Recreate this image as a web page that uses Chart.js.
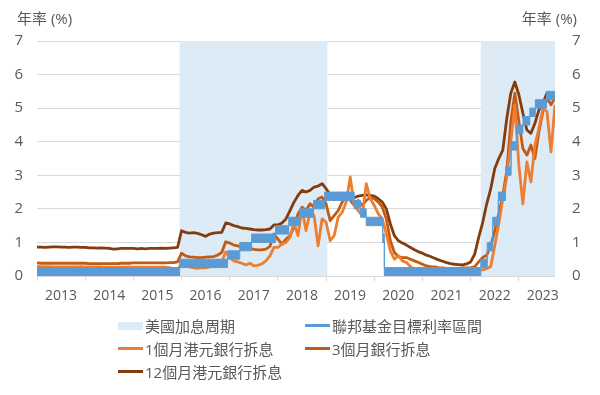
<!DOCTYPE html>
<html>
<head>
<meta charset="utf-8">
<script src="https://cdn.jsdelivr.net/npm/chart.js@4.4.0/dist/chart.umd.min.js"></script>
<style>
    html, body { margin: 0; padding: 0; background: #fff; }
    #wrap { position: relative; width: 600px; height: 395px; font-family: "Open Sans", "Noto Sans CJK TC", sans-serif; color: #595959; }
    #legend { position: absolute; left: 118px; top: 314px; display: grid; grid-template-columns: 187px auto; grid-auto-rows: 23px; font-size: 15px; }
    .item { display: flex; align-items: center; white-space: nowrap; }
    .sw { width: 25px; margin-right: 2px; }
</style>
</head>
<body>
<div id="wrap">
    <canvas id="rateChart" width="600" height="395"></canvas>
    <div id="legend"></div>
</div>
<script>
// Monthly HIBOR readings, Jan 2013 .. Oct 2023
const startYear = 2013;
const monthCount = 130;

const hibor1m = [
    0.29, 0.28, 0.28, 0.28, 0.27, 0.27, 0.27, 0.27, 0.27, 0.27, 0.27, 0.28,
    0.27, 0.27, 0.27, 0.27, 0.27, 0.26, 0.26, 0.26, 0.26, 0.26, 0.26, 0.27,
    0.26, 0.26, 0.26, 0.26, 0.26, 0.26, 0.26, 0.26, 0.26, 0.25, 0.20, 0.16,
    0.40, 0.30, 0.27, 0.24, 0.23, 0.25, 0.24, 0.27, 0.30, 0.35, 0.42, 0.72,
    0.55, 0.45, 0.42, 0.38, 0.33, 0.38, 0.30, 0.32, 0.36, 0.45, 0.60, 0.85,
    0.85, 0.95, 1.00, 1.15, 1.60, 1.20, 2.00, 1.35, 1.90, 1.80, 0.90, 1.70,
    1.60, 1.05, 1.20, 1.75, 1.90, 2.20, 2.95, 2.10, 1.95, 1.80, 2.75, 2.30,
    2.10, 1.85, 1.70, 1.25, 0.75, 0.50, 0.60, 0.45, 0.40, 0.28, 0.20, 0.18,
    0.17, 0.16, 0.15, 0.14, 0.13, 0.13, 0.12, 0.12, 0.12, 0.12, 0.13, 0.15,
    0.15, 0.17, 0.18, 0.18, 0.22, 0.28, 0.90, 1.55, 2.30, 2.95, 4.00, 5.10,
    3.30, 2.15, 3.40, 2.80, 3.90, 4.40, 5.00, 4.90, 3.70, 5.10
];

const hibor3m = [
    0.39, 0.38, 0.38, 0.38, 0.38, 0.38, 0.38, 0.38, 0.38, 0.38, 0.38, 0.38,
    0.38, 0.37, 0.37, 0.37, 0.37, 0.37, 0.37, 0.37, 0.37, 0.38, 0.38, 0.38,
    0.39, 0.39, 0.39, 0.39, 0.39, 0.39, 0.39, 0.39, 0.39, 0.40, 0.40, 0.42,
    0.68, 0.60, 0.57, 0.56, 0.55, 0.55, 0.56, 0.57, 0.58, 0.62, 0.70, 1.02,
    0.98, 0.92, 0.90, 0.87, 0.85, 0.82, 0.79, 0.78, 0.78, 0.80, 0.88, 1.25,
    1.10, 0.95, 1.10, 1.20, 1.45, 1.85, 2.05, 1.95, 2.15, 2.05, 2.30, 2.35,
    2.15, 1.65, 1.80, 1.95, 2.20, 2.35, 2.25, 2.10, 2.25, 2.10, 2.25, 2.35,
    2.30, 2.20, 2.05, 1.70, 1.05, 0.70, 0.58, 0.55, 0.55, 0.50, 0.45, 0.40,
    0.35, 0.30, 0.28, 0.27, 0.25, 0.24, 0.23, 0.23, 0.23, 0.23, 0.24, 0.24,
    0.24, 0.28, 0.42, 0.55, 0.62, 0.90, 1.35, 1.85, 2.40, 3.15, 4.60, 5.45,
    4.60, 3.80, 3.60, 3.90, 3.50, 4.30, 4.90, 5.30, 5.10, 5.30
];

const hibor12m = [
    0.86, 0.86, 0.85, 0.86, 0.87, 0.87, 0.86, 0.86, 0.85, 0.86, 0.86, 0.85,
    0.85, 0.84, 0.84, 0.83, 0.84, 0.83, 0.82, 0.80, 0.81, 0.82, 0.82, 0.82,
    0.82, 0.81, 0.82, 0.81, 0.82, 0.82, 0.82, 0.83, 0.82, 0.83, 0.84, 0.85,
    1.35, 1.30, 1.28, 1.29, 1.27, 1.23, 1.18, 1.25, 1.28, 1.29, 1.30, 1.58,
    1.55, 1.50, 1.47, 1.43, 1.42, 1.40, 1.38, 1.37, 1.37, 1.38, 1.40, 1.52,
    1.52, 1.58, 1.70, 1.95, 2.20, 2.40, 2.55, 2.50, 2.55, 2.65, 2.68, 2.75,
    2.60, 2.42, 2.35, 2.30, 2.38, 2.40, 2.35, 2.33, 2.38, 2.40, 2.42, 2.40,
    2.38, 2.30, 2.20, 2.00, 1.55, 1.20, 1.05, 0.98, 0.92, 0.85, 0.78, 0.72,
    0.68, 0.62, 0.58, 0.53, 0.48, 0.44, 0.40, 0.37, 0.35, 0.34, 0.33, 0.36,
    0.42, 0.65, 1.15, 1.60, 2.15, 2.60, 3.20, 3.50, 3.75, 4.70, 5.45, 5.78,
    5.40, 4.85, 4.35, 4.25, 4.55, 4.95, 5.15, 5.45, 5.30, 5.45
];

// Fed funds target range: change dates with lower / upper bound
const fedDates = [
    '2013-01-01', '2015-12-17', '2016-12-15', '2017-03-16', '2017-06-15', '2017-12-14',
    '2018-03-22', '2018-06-14', '2018-09-27', '2018-12-20', '2019-08-01', '2019-09-19',
    '2019-10-31', '2020-03-04', '2020-03-16', '2022-03-17', '2022-05-05', '2022-06-16',
    '2022-07-28', '2022-09-22', '2022-11-03', '2022-12-15', '2023-02-02', '2023-03-23',
    '2023-05-04', '2023-07-27', '2023-10-01'
];
const fedLower = [
    0, 0.25, 0.5, 0.75, 1, 1.25, 1.5, 1.75, 2, 2.25, 2, 1.75,
    1.5, 1, 0, 0.25, 0.75, 1.5, 2.25, 3, 3.75, 4.25, 4.5, 4.75,
    5, 5.25, 5.25
];
const fedUpper = [
    0.25, 0.5, 0.75, 1, 1.25, 1.5, 1.75, 2, 2.25, 2.5, 2.25, 2,
    1.75, 1.25, 0.25, 0.5, 1, 1.75, 2.5, 3.25, 4, 4.5, 4.75, 5,
    5.25, 5.5, 5.5
];

// US hiking cycles (shaded)
const hikeCycles = [['2015-12-17', '2019-01-10'], ['2022-03-17', '2023-10-01']];

const yearTicks = [2013, 2014, 2015, 2016, 2017, 2018, 2019, 2020, 2021, 2022, 2023];
const rateTicks = [0, 1, 2, 3, 4, 5, 6, 7];
const axisTitle = '年率 (%)';

const seriesNames = ['美國加息周期', '聯邦基金目標利率區間', '1個月港元銀行拆息', '3個月銀行拆息', '12個月港元銀行拆息'];
const colors = {
    shade: '#DDEBF7',
    fed: '#5B9BD5',
    m1: '#ED7D31',
    m3: '#C55A11',
    m12: '#843C0C',
    text: '#595959',
    grid: '#D9D9D9'
};
const FONT = '"Open Sans", "Noto Sans CJK TC", sans-serif';

// Date string -> decimal year
function toYear(str) {
    const [y, m, d] = str.split('-').map(Number);
    return y + (m - 1) / 12 + ((d || 1) - 1) / 365;
}

const monthX = [];
for (let i = 0; i < monthCount; i++) {
    monthX.push(startYear + i / 12);
}
const toPoints = values => values.map((v, i) => ({ x: monthX[i], y: v }));
const fedPoints = values => values.map((v, i) => ({ x: toYear(fedDates[i]), y: v }));

// Shaded hiking periods, drawn over the grid but under the lines
const shadePlugin = {
    id: 'shade',
    beforeDatasetsDraw(chart) {
        const { ctx, chartArea: a, scales: { x } } = chart;
        ctx.save();
        ctx.fillStyle = colors.shade;
        hikeCycles.forEach(([s, e]) => {
            const x0 = x.getPixelForValue(toYear(s));
            const x1 = Math.min(x.getPixelForValue(toYear(e)), a.right);
            ctx.fillRect(x0, a.top, x1 - x0, a.bottom - a.top);
        });
        ctx.restore();
    }
};

// Axis titles above both y axes
const titlePlugin = {
    id: 'titles',
    afterDraw(chart) {
        const { ctx } = chart;
        ctx.save();
        ctx.font = '15px ' + FONT;
        ctx.fillStyle = colors.text;
        ctx.textBaseline = 'middle';
        ctx.textAlign = 'left';
        ctx.fillText(axisTitle, 17, 20);
        ctx.textAlign = 'right';
        ctx.fillText(axisTitle, 577, 20);
        ctx.restore();
    }
};

const lineStyle = { pointRadius: 0, borderWidth: 2.8, tension: 0, fill: false, borderJoinStyle: 'round' };

new Chart(document.getElementById('rateChart'), {
    type: 'line',
    data: {
        datasets: [
            { label: 'fedLower', data: fedPoints(fedLower), borderColor: colors.fed, borderWidth: 1, pointRadius: 0, stepped: true, fill: false },
            { label: seriesNames[1], data: fedPoints(fedUpper), borderColor: colors.fed, backgroundColor: colors.fed, borderWidth: 1, pointRadius: 0, stepped: true, fill: '-1' },
            { label: seriesNames[2], data: toPoints(hibor1m), borderColor: colors.m1, ...lineStyle },
            { label: seriesNames[3], data: toPoints(hibor3m), borderColor: colors.m3, ...lineStyle },
            { label: seriesNames[4], data: toPoints(hibor12m), borderColor: colors.m12, ...lineStyle }
        ]
    },
    options: {
        responsive: false,
        animation: false,
        layout: { padding: { top: 41, bottom: 89, left: 0, right: 0 } },
        plugins: {
            legend: { display: false },
            tooltip: { enabled: false }
        },
        scales: {
            x: {
                type: 'linear',
                min: 2013,
                max: 2023.75,
                afterBuildTicks(scale) {
                    scale.ticks = yearTicks.map(v => ({ value: v }));
                },
                ticks: {
                    callback: v => String(v),
                    autoSkip: false,
                    maxRotation: 0,
                    labelOffset: 24,
                    padding: 7,
                    color: colors.text,
                    font: { family: FONT, size: 14 }
                },
                grid: { drawOnChartArea: false, drawTicks: true, tickLength: 5, color: colors.grid },
                border: { display: false },
                afterFit(scale) { scale.height = 30; }
            },
            y: {
                position: 'left',
                min: 0,
                max: 7,
                afterBuildTicks(scale) {
                    scale.ticks = rateTicks.map(v => ({ value: v }));
                },
                ticks: { padding: 14, color: colors.text, font: { family: FONT, size: 15 } },
                grid: { color: colors.grid, drawTicks: false },
                border: { display: false },
                afterFit(scale) { scale.width = 37; }
            },
            y2: {
                position: 'right',
                min: 0,
                max: 7,
                afterBuildTicks(scale) {
                    scale.ticks = rateTicks.map(v => ({ value: v }));
                },
                ticks: { padding: 17, color: colors.text, font: { family: FONT, size: 15 } },
                grid: { display: false, drawTicks: false },
                border: { display: false },
                afterFit(scale) { scale.width = 45; }
            }
        }
    },
    plugins: [shadePlugin, titlePlugin]
});

// HTML legend in two columns
const legendItems = [
    { name: seriesNames[0], color: colors.shade, h: 8 },
    { name: seriesNames[1], color: colors.fed, h: 3 },
    { name: seriesNames[2], color: colors.m1, h: 3 },
    { name: seriesNames[3], color: colors.m3, h: 3 },
    { name: seriesNames[4], color: colors.m12, h: 3 }
];
document.getElementById('legend').innerHTML = legendItems.map(item => `
    <div class="item">
        <span class="sw" style="height:${item.h}px;background:${item.color}"></span>
        <span>${item.name}</span>
    </div>`).join('');
</script>
</body>
</html>
